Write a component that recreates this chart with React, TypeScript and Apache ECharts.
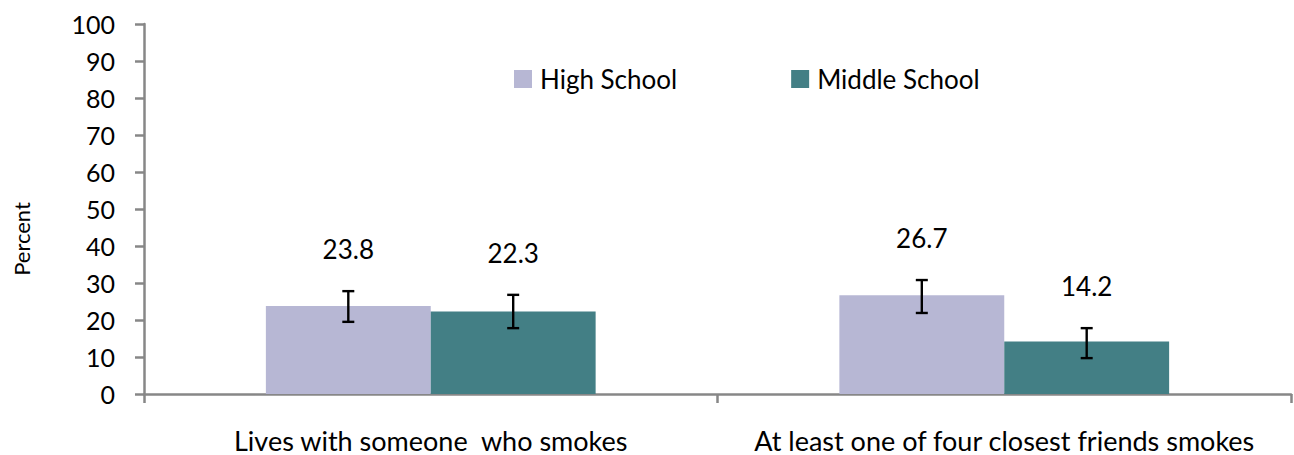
import React, { useEffect, useRef } from "react";
import * as echarts from "echarts";

const categories = ["Lives with someone  who smokes", "At least one of four closest friends smokes"];
const seriesNames = ["High School", "Middle School"];
const highSchool = [23.8, 26.7];
const middleSchool = [22.3, 14.2];
const highSchoolLow = [19.5, 21.9];
const highSchoolHigh = [27.8, 30.8];
const middleSchoolLow = [17.8, 9.7];
const middleSchoolHigh = [26.8, 17.8];
const colors = ["#B7B7D4", "#437F85"];
const yAxisTitle = "Percent";

const FONT = "Lato";
const GAP = 0.425;

function errorSeries(idx: number, vals: number[], lows: number[], highs: number[]) {
  return {
    type: "custom",
    name: seriesNames[idx] + " error",
    z: 10,
    silent: true,
    encode: { x: 0, y: [1, 2] },
    data: vals.map((v, i) => [i, lows[i], highs[i], v]),
    renderItem: (params: any, api: any) => {
      const band = api.size([1, 0])[0];
      const barW = (band * (1 - GAP)) / 2;
      const center = api.coord([api.value(0), 0])[0];
      const x = center + (idx === 0 ? -barW / 2 : barW / 2);
      const lo = api.coord([api.value(0), api.value(1)])[1];
      const hi = api.coord([api.value(0), api.value(2)])[1];
      const cap = 6;
      const st = { stroke: "#000", lineWidth: 2.4 };
      return {
        type: "group",
        children: [
          { type: "line", shape: { x1: x, y1: lo, x2: x, y2: hi }, style: st },
          { type: "line", shape: { x1: x - cap, y1: lo, x2: x + cap, y2: lo }, style: st },
          { type: "line", shape: { x1: x - cap, y1: hi, x2: x + cap, y2: hi }, style: st },
          {
            type: "text",
            x: x,
            y: hi - 42,
            style: {
              text: String(api.value(3).toFixed(1)),
              fill: "#000",
              font: `26px ${FONT}`,
              align: "center",
              verticalAlign: "middle",
            },
          },
        ],
      };
    },
  };
}

export default function App() {
  const ref = useRef<HTMLDivElement>(null);
  useEffect(() => {
    const chart = echarts.init(ref.current!, null, { renderer: "svg" });
    const axisColor = "#878787";
    chart.setOption({
      animation: false,
      grid: { left: 144, right: 3, top: 24, bottom: 61, containLabel: false },
      legend: {
        data: seriesNames,
        left: 509,
        top: 61,
        itemWidth: 18,
        itemHeight: 18,
        itemGap: 114,
        icon: "rect",
        textStyle: { fontFamily: FONT, fontSize: 26, color: "#000", padding: [0, 0, 0, 3] },
      },
      graphic: [
        {
          type: "text",
          x: 21,
          y: 239,
          rotation: Math.PI / 2,
          style: {
            text: yAxisTitle,
            font: `22px ${FONT}`,
            fill: "#000",
            align: "center",
            verticalAlign: "middle",
          },
        },
      ],
      xAxis: {
        type: "category",
        data: categories,
        axisLine: { lineStyle: { color: axisColor, width: 2.5 } },
        axisTick: { show: true, length: 9, lineStyle: { color: axisColor, width: 2.5 } },
        axisLabel: {
          fontFamily: FONT,
          fontSize: 27,
          lineHeight: 26,
          color: "#000",
          margin: 33,
          interval: 0,
        },
      },
      yAxis: {
        type: "value",
        min: 0,
        max: 100,
        interval: 10,
        splitLine: { show: false },
        axisLine: { show: true, lineStyle: { color: axisColor, width: 2.5 } },
        axisTick: { show: true, length: 9, lineStyle: { color: axisColor, width: 2.5 } },
        axisLabel: { fontFamily: FONT, fontSize: 25, color: "#000", margin: 29 },
      },
      series: [
        {
          type: "bar",
          name: seriesNames[0],
          data: highSchool,
          itemStyle: { color: colors[0] },
          barGap: "0%",
          barCategoryGap: GAP * 100 + "%",
        },
        {
          type: "bar",
          name: seriesNames[1],
          data: middleSchool,
          itemStyle: { color: colors[1] },
          barGap: "0%",
          barCategoryGap: GAP * 100 + "%",
        },
        errorSeries(0, highSchool, highSchoolLow, highSchoolHigh),
        errorSeries(1, middleSchool, middleSchoolLow, middleSchoolHigh),
      ],
    });
    return () => chart.dispose();
  }, []);
  return (
    <div
      ref={ref}
      style={{ position: "absolute", left: 0, top: 0, width: 1294, height: 455 }}
    />
  );
}
